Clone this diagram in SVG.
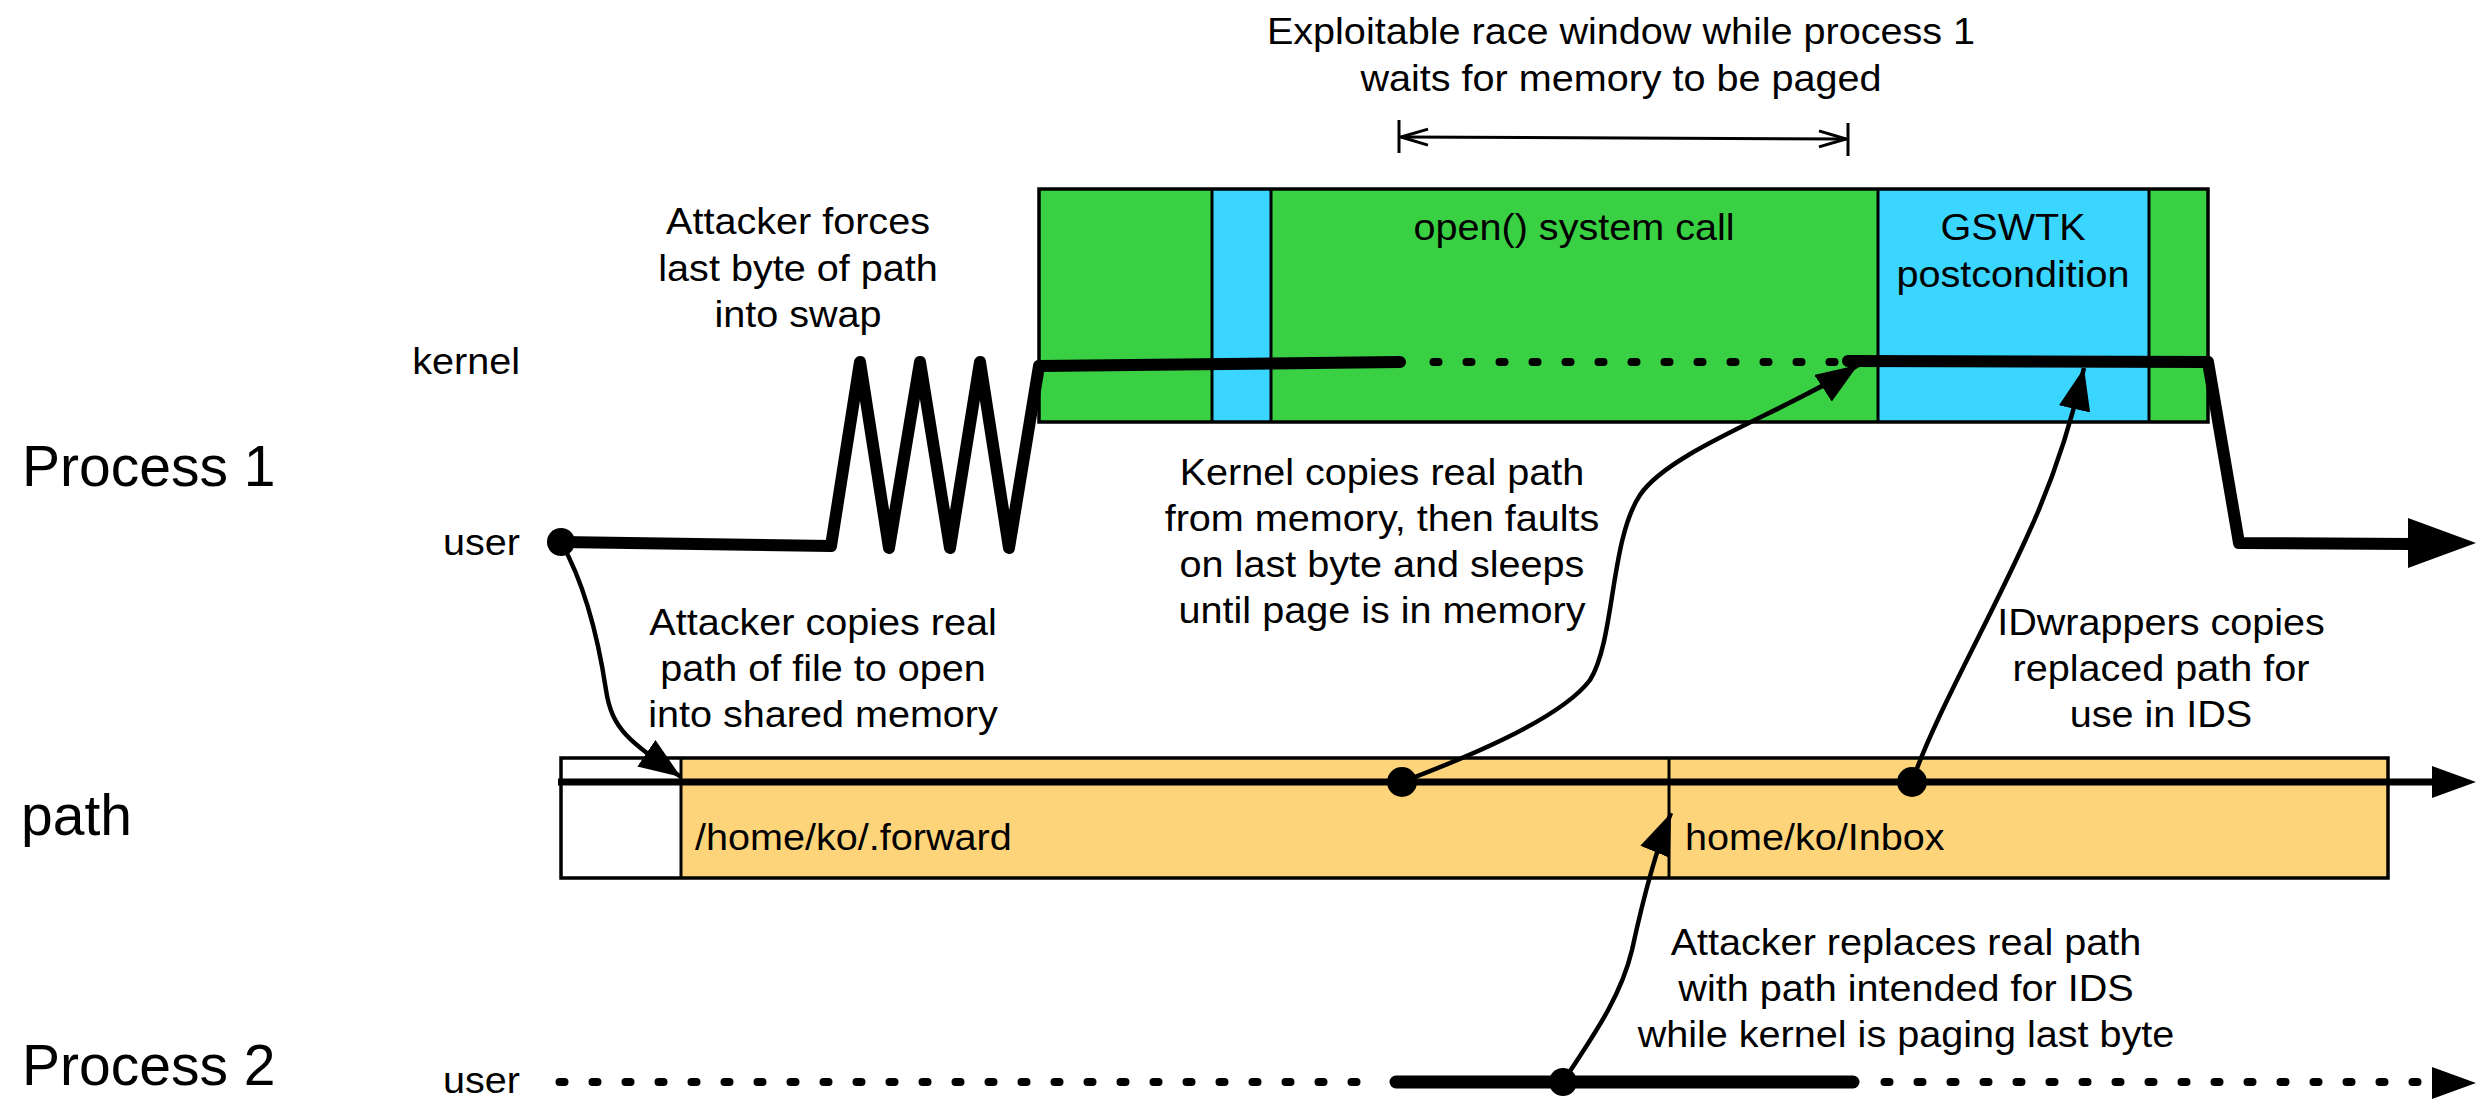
<svg xmlns="http://www.w3.org/2000/svg" width="2487" height="1099" viewBox="0 0 2487 1099">
  <defs>
    <style>
      text { font-family: "Liberation Sans", Arial, Helvetica, sans-serif; fill: #000; }
      .big { font-size: 57px; }
      .lbl { font-size: 37px; }
      .c { text-anchor: middle; }
      .e { text-anchor: end; }
      .green { fill: #3ad044; }
      .blue { fill: #3ad6ff; }
      .orange { fill: #fed47a; }
      .frame { fill: none; stroke: #000; stroke-width: 3.5; }
      .div { stroke: #000; stroke-width: 3; }
      .thick { fill: none; stroke: #000; stroke-width: 12; stroke-linecap: round; stroke-linejoin: round; }
      .pline { fill: none; stroke: #000; stroke-width: 7; }
      .dots { fill: none; stroke: #000; stroke-width: 8; stroke-linecap: round; stroke-dasharray: 5 28; }
      .thin { fill: none; stroke: #000; stroke-width: 4.5; marker-end: url(#head); }
      .span { fill: none; stroke: #000; stroke-width: 3; }
    </style>
    <marker id="head" markerUnits="userSpaceOnUse" viewBox="0 0 44 34" markerWidth="44" markerHeight="34" refX="42" refY="16" orient="auto">
      <path d="M0,0 L42,16 L0,32 z" fill="#000"/>
    </marker>
    <marker id="open" markerUnits="userSpaceOnUse" viewBox="-2 -2 32 20" markerWidth="32" markerHeight="20" refX="27" refY="8" orient="auto-start-reverse">
      <path d="M0,0 L27,8 L0,16" fill="none" stroke="#000" stroke-width="3"/>
    </marker>
  </defs>

  <!-- row labels -->
  <g id="row-labels">
    <text class="big" x="22" y="486">Process 1</text>
    <text class="big" x="21" y="835">path</text>
    <text class="big" x="22" y="1085">Process 2</text>
    <text class="lbl e" transform="translate(520 0) scale(1.07 1)"><tspan x="0" y="374">kernel</tspan></text>
    <text class="lbl e" transform="translate(520 0) scale(1.07 1)"><tspan x="0" y="555">user</tspan></text>
    <text class="lbl e" transform="translate(520 0) scale(1.07 1)"><tspan x="0" y="1093">user</tspan></text>
  </g>

  <!-- kernel activity of process 1 -->
  <g id="kernel-box">
    <rect class="green" x="1039" y="189" width="1169" height="233"/>
    <rect class="blue" x="1212" y="189" width="59" height="233"/>
    <rect class="blue" x="1878" y="189" width="271" height="233"/>
    <line class="div" x1="1212" y1="189" x2="1212" y2="422"/>
    <line class="div" x1="1271" y1="189" x2="1271" y2="422"/>
    <line class="div" x1="1878" y1="189" x2="1878" y2="422"/>
    <line class="div" x1="2149" y1="189" x2="2149" y2="422"/>
    <rect class="frame" x="1039" y="189" width="1169" height="233"/>
    <text class="lbl c" transform="translate(1574 0) scale(1.07 1)"><tspan x="0" y="240">open() system call</tspan></text>
    <text class="lbl c" transform="translate(2013 0) scale(1.07 1)"><tspan x="0" y="240">GSWTK</tspan><tspan x="0" y="287">postcondition</tspan></text>
  </g>

  <!-- shared path buffer -->
  <g id="path-buffer">
    <rect fill="#fff" x="561" y="758" width="120" height="120"/>
    <rect class="orange" x="681" y="758" width="1707" height="120"/>
    <line class="div" x1="681" y1="758" x2="681" y2="878"/>
    <line class="div" x1="1669" y1="758" x2="1669" y2="878"/>
    <rect class="frame" x="561" y="758" width="1827" height="120"/>
    <text class="lbl" transform="translate(695 0) scale(1.07 1)"><tspan x="0" y="850">/home/ko/.forward</tspan></text>
    <text class="lbl" transform="translate(1685 0) scale(1.07 1)"><tspan x="0" y="850">home/ko/Inbox</tspan></text>
  </g>

  <!-- race window annotation -->
  <g id="race-window">
    <text class="lbl c" transform="translate(1621 0) scale(1.07 1)"><tspan x="0" y="44">Exploitable race window while process 1</tspan><tspan x="0" y="91">waits for memory to be paged</tspan></text>
    <line class="span" x1="1399" y1="120" x2="1399" y2="153"/>
    <line class="span" x1="1848" y1="123" x2="1848" y2="156"/>
    <path class="span" d="M1401,137 L1846,139" marker-start="url(#open)" marker-end="url(#open)"/>
  </g>

  <!-- annotations -->
  <g id="notes">
    <text class="lbl c" transform="translate(798 0) scale(1.07 1)"><tspan x="0" y="234">Attacker forces</tspan><tspan x="0" y="281">last byte of path</tspan><tspan x="0" y="327">into swap</tspan></text>
    <text class="lbl c" transform="translate(1382 0) scale(1.07 1)"><tspan x="0" y="485">Kernel copies real path</tspan><tspan x="0" y="531">from memory, then faults</tspan><tspan x="0" y="577">on last byte and sleeps</tspan><tspan x="0" y="623">until page is in memory</tspan></text>
    <text class="lbl c" transform="translate(823 0) scale(1.07 1)"><tspan x="0" y="635">Attacker copies real</tspan><tspan x="0" y="681">path of file to open</tspan><tspan x="0" y="727">into shared memory</tspan></text>
    <text class="lbl c" transform="translate(2161 0) scale(1.07 1)"><tspan x="0" y="635">IDwrappers copies</tspan><tspan x="0" y="681">replaced path for</tspan><tspan x="0" y="727">use in IDS</tspan></text>
    <text class="lbl c" transform="translate(1906 0) scale(1.07 1)"><tspan x="0" y="955">Attacker replaces real path</tspan><tspan x="0" y="1001">with path intended for IDS</tspan><tspan x="0" y="1047">while kernel is paging last byte</tspan></text>
  </g>

  <!-- timelines and connectors -->
  <g id="connectors">
    <!-- process 1 -->
    <path class="thick" d="M561,542 L831,546 L860,362 L889,548 L920,362 L950,548 L980,362 L1009,548 L1039,366 L1400,362"/>
    <path class="dots" d="M1433.5,362 H1840"/>
    <path class="thick" d="M1848,361 L2208,362 L2239,543 L2412,544"/>
    <polygon points="2408,518 2476,543 2408,568" fill="#000"/>
    <circle cx="561" cy="542" r="14" fill="#000"/>

    <!-- path buffer timeline -->
    <path class="pline" d="M558,782 H2440"/>
    <polygon points="2432,766 2476,782 2432,798" fill="#000"/>
    <circle cx="1402" cy="782" r="15" fill="#000"/>
    <circle cx="1912" cy="782" r="15" fill="#000"/>

    <!-- process 2 -->
    <path class="dots" d="M559.5,1082 H1370"/>
    <path class="thick" d="M1396,1082 H1853" style="stroke-width:13"/>
    <path class="dots" d="M1884.5,1082 H2425"/>
    <polygon points="2432,1067 2476,1083 2432,1099" fill="#000"/>
    <circle cx="1563" cy="1082" r="14" fill="#000"/>

    <!-- data flow arrows -->
    <path class="thin" d="M561,542 C588,590 600,650 606,690 C612,730 630,742 681,777"/>
    <path class="thin" d="M1402,782 C1460,760 1560,720 1590,680 C1615,640 1610,540 1640,495 C1670,450 1790,410 1858,365"/>
    <path class="thin" d="M1912,782 C1935,715 1990,620 2030,530 C2055,475 2072,420 2084,368"/>
    <path class="thin" d="M1563,1082 C1590,1040 1620,1000 1632,950 C1645,890 1660,840 1671,813"/>
  </g>
</svg>
